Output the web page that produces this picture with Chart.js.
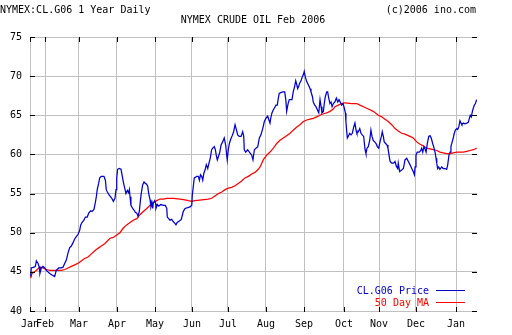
<!DOCTYPE html>
<html>
<head>
<meta charset="utf-8">
<script src="https://cdn.jsdelivr.net/npm/chart.js@4/dist/chart.umd.min.js"></script>
<style>
  html, body { margin: 0; padding: 0; background: #fff; }
  canvas { display: block; }
</style>
</head>
<body>
<canvas id="c" width="512" height="335"></canvas>
<script>
// ---- Data (trading-session index from start of chart, price in $/bbl) ----
const headerLeft = 'NYMEX:CL.G06 1 Year Daily';
const headerRight = '(c)2006 ino.com';
const chartTitle = 'NYMEX CRUDE OIL Feb 2006';
const seriesNames = ['CL.G06 Price', '50 Day MA'];

const monthLabels = ['Jan','Feb','Mar','Apr','May','Jun','Jul','Aug','Sep','Oct','Nov','Dec','Jan'];
const monthDays = [0, 8.5, 27.6, 49.0, 70.5, 91.3, 111.6, 133.0, 154.5, 177.0, 196.8, 217.6, 240.2];
const yTicks = [40, 45, 50, 55, 60, 65, 70, 75];

const priceDay = [0.4,0.7,2.3,3.0,3.6,4.5,5.1,5.6,6.4,7.3,8.3,9.2,10.1,11.1,12.4,13.9,14.8,16.2,17.6,18.6,19.6,20.5,21.4,22.4,23.3,24.2,25.2,26.1,27.1,28.0,28.6,29.3,30.4,31.2,32.3,33.1,34.2,35.0,36.1,36.8,37.4,37.9,38.7,39.3,40.2,41.7,42.5,43.0,43.6,44.7,46.1,47.0,47.9,48.5,48.9,49.4,50.3,51.3,51.9,52.6,53.4,54.1,54.9,55.6,56.0,56.4,56.9,57.9,58.6,59.4,60.2,60.9,61.6,62.2,62.7,63.5,64.3,65.0,65.8,66.4,66.9,67.7,68.2,68.8,69.2,69.5,70.3,70.9,71.0,71.8,72.6,73.7,75.1,76.3,77.1,77.4,78.2,78.9,79.9,80.8,81.7,82.3,83.0,84.2,85.3,86.4,87.4,88.9,90.2,91.2,91.5,92.1,92.6,93.4,94.0,94.9,95.5,96.1,96.8,97.4,98.0,98.7,99.4,100.2,100.9,101.6,102.4,103.0,103.9,104.5,105.0,105.6,106.2,107.0,107.7,108.6,109.5,110.3,110.9,111.2,111.8,112.4,113.1,114.0,114.8,115.6,116.3,117.1,118.0,119.0,119.9,120.5,120.8,121.6,122.7,124.0,125.0,125.7,126.5,127.4,128.4,129.3,130.2,131.2,132.1,133.0,134.0,134.7,135.3,135.7,136.4,137.2,137.7,138.7,139.4,140.0,140.5,141.3,142.5,143.6,144.2,144.7,145.5,146.2,147.0,147.7,148.4,149.2,149.8,150.4,150.9,151.5,152.0,152.8,153.5,154.1,154.6,155.2,156.0,156.9,157.9,158.4,159.2,159.7,160.5,161.2,162.0,162.8,163.5,164.1,164.6,165.4,165.9,166.5,167.3,167.8,168.4,169.1,169.7,170.3,171.0,171.9,172.7,173.5,174.2,174.9,175.7,176.5,177.2,177.8,178.1,178.5,178.9,179.4,180.2,181.0,181.7,182.5,183.2,183.8,184.3,185.1,185.9,186.6,187.3,188.1,188.9,189.4,190.0,190.7,191.5,192.2,192.8,193.5,194.3,195.1,195.8,196.6,197.3,198.1,198.6,199.2,199.7,200.5,201.3,201.8,202.4,203.0,203.9,205.0,205.8,206.5,207.3,207.6,208.4,209.5,210.5,211.4,212.4,213.3,214.2,215.2,216.1,216.7,217.1,217.6,218.3,219.5,220.3,220.8,221.4,222.1,222.7,223.3,224.0,224.8,225.5,226.2,227.0,227.8,228.5,228.9,229.3,229.8,230.4,231.1,232.1,233.0,234.0,234.9,235.5,236.2,236.8,237.3,237.9,238.6,239.2,239.8,240.6,241.1,241.7,242.4,243.0,243.5,244.3,245.2,246.2,247.1,247.7,248.2,248.8,249.4,249.9,250.5,251.1,251.8];
const priceVal = [44.4,45.5,45.6,45.7,46.4,46.1,45.7,44.8,45.5,45.7,45.5,45.2,45.0,44.8,44.6,44.4,45.2,45.5,45.5,45.6,46.1,46.5,47.4,48.1,48.3,48.7,49.2,49.5,49.8,50.3,51.0,51.3,51.6,52.0,52.0,52.5,52.8,52.7,53.0,53.8,54.6,55.5,56.3,57.0,57.2,57.2,56.7,55.5,55.2,54.8,54.4,54.0,54.4,55.5,57.0,58.1,58.2,58.1,57.4,56.5,55.7,55.0,55.4,55.1,55.5,54.6,53.5,53.1,52.9,52.6,52.5,52.1,52.7,54.0,55.0,56.1,56.5,56.3,56.2,55.9,55.0,54.2,53.3,53.8,53.1,53.8,54.1,53.7,53.1,53.6,53.4,53.6,53.5,53.5,53.1,52.0,51.8,51.6,51.7,51.4,51.2,51.0,51.3,51.5,51.7,52.7,53.1,53.2,53.3,53.5,54.8,56.0,57.0,57.1,57.2,57.2,56.7,57.4,57.2,56.7,57.6,58.0,58.7,58.2,58.9,59.5,60.6,60.8,61.0,60.6,59.9,59.3,59.7,60.3,61.2,61.6,62.1,61.2,59.9,59.3,60.6,61.4,61.9,62.4,62.9,63.8,63.2,62.5,62.3,62.3,62.9,62.3,60.6,60.3,60.6,60.2,59.9,59.3,60.6,60.8,61.0,62.1,62.5,63.3,64.2,64.6,64.9,64.4,64.0,64.6,65.3,65.7,65.9,66.3,66.3,67.2,67.8,67.9,68.0,68.0,67.0,65.5,66.5,67.0,67.0,67.0,68.0,68.7,69.4,68.9,68.4,68.7,69.1,69.4,69.9,70.2,70.6,69.9,69.3,68.9,68.4,68.0,67.4,66.7,66.3,66.1,65.7,65.3,67.0,66.1,65.3,65.5,66.5,67.4,68.0,68.0,67.2,66.5,66.7,66.1,66.5,66.7,67.2,66.7,67.0,66.7,66.3,66.5,65.9,65.3,64.2,63.1,62.1,62.3,62.7,62.5,62.7,63.5,64.0,63.1,62.7,62.9,63.3,62.7,62.5,62.3,60.6,60.1,60.8,61.0,61.8,63.1,62.3,61.8,61.6,61.4,61.0,60.8,61.6,62.3,62.9,62.3,61.6,61.4,61.2,60.8,59.9,59.1,58.9,58.9,59.1,58.5,58.2,58.9,57.8,58.0,58.2,59.3,59.5,59.1,58.7,58.2,57.8,57.4,58.4,59.9,60.3,60.3,60.5,60.8,60.3,61.0,60.7,60.3,61.4,62.3,62.4,62.1,61.4,60.8,60.1,59.5,58.9,58.2,58.4,58.1,58.4,58.2,58.2,58.1,58.7,59.9,60.3,61.0,61.5,62.1,62.7,63.1,63.3,63.2,63.5,64.3,64.0,63.8,64.0,63.9,64.0,64.1,64.6,65.0,64.8,65.5,65.9,66.3,66.5,67.0];

const maDay = [0.4,1.1,2.6,4.1,5.5,7.3,9.2,11.1,13.9,17.6,19.6,21.4,23.3,25.2,27.1,28.9,30.8,32.7,34.6,36.5,38.3,40.2,42.1,45.1,47.0,48.9,50.7,52.6,54.5,56.4,58.2,60.2,62.0,63.9,65.8,67.7,69.5,71.4,73.3,75.1,77.1,80.8,84.6,87.4,89.2,91.2,93.0,96.8,100.5,102.4,104.3,106.2,108.1,110.0,111.8,113.7,115.6,117.4,119.3,121.2,123.1,125.0,126.8,128.7,129.7,131.5,133.4,135.3,137.2,139.1,140.9,142.8,144.7,146.6,148.4,150.4,152.2,154.1,156.0,157.9,159.7,161.6,163.5,165.4,167.3,169.1,171.0,171.9,173.8,175.7,177.6,181.4,184.2,186.0,188.9,190.7,193.5,196.4,198.3,200.1,202.0,203.9,205.8,207.6,209.5,211.4,214.2,216.1,218.0,219.9,221.7,223.6,225.5,227.4,229.3,231.1,233.0,234.9,236.8,238.6,240.6,242.4,244.3,246.2,248.1,249.9,250.9,251.8];
const maVal = [44.2,44.8,45.0,45.3,45.6,45.5,45.3,45.2,45.2,45.2,45.3,45.5,45.7,45.9,46.1,46.4,46.7,46.9,47.3,47.7,48.0,48.3,48.6,49.3,49.4,49.7,50.0,50.6,51.0,51.3,51.6,51.8,52.3,52.7,53.1,53.5,53.8,54.1,54.3,54.3,54.4,54.4,54.3,54.2,54.1,54.0,54.1,54.2,54.3,54.4,54.7,55.0,55.2,55.5,55.7,55.8,56.0,56.3,56.6,57.0,57.2,57.5,57.7,58.1,58.4,59.3,59.9,60.3,60.8,61.4,61.8,62.1,62.4,62.7,63.1,63.5,63.8,64.2,64.4,64.5,64.6,64.8,65.0,65.2,65.3,65.5,65.8,66.1,66.3,66.5,66.6,66.5,66.5,66.3,66.0,65.8,65.5,65.0,64.8,64.5,64.2,63.8,63.3,63.0,62.7,62.6,62.3,62.1,61.6,61.3,61.1,60.8,60.7,60.6,60.5,60.3,60.2,60.1,60.1,60.2,60.3,60.3,60.3,60.4,60.5,60.6,60.7,60.8];

const FONT = 'DejaVu Sans Mono';
const BLUE = '#0000cc';
const RED = '#ff0000';
const GRID = '#c0c0c0';

function toPoints(xs, ys) {
  const n = Math.min(xs.length, ys.length);
  const out = [];
  for (let i = 0; i < n; i++) out.push({ x: xs[i], y: ys[i] });
  return out;
}

const decorPlugin = {
  id: 'decor',
  afterDraw(chart) {
    const ctx = chart.ctx;
    const a = chart.chartArea;
    const xs = chart.scales.x, ys = chart.scales.y;
    ctx.save();
    // inward dark tick marks
    ctx.strokeStyle = '#000';
    ctx.lineWidth = 1;
    ctx.beginPath();
    ys.ticks.forEach(t => {
      const py = Math.round(ys.getPixelForValue(t.value)) + 0.5;
      ctx.moveTo(a.left, py); ctx.lineTo(a.left + 5, py);
      ctx.moveTo(a.right - 5, py); ctx.lineTo(a.right, py);
    });
    xs.ticks.forEach(t => {
      const px = Math.round(xs.getPixelForValue(t.value)) + 0.5;
      ctx.moveTo(px, a.top); ctx.lineTo(px, a.top + 5);
      ctx.moveTo(px, a.bottom - 4); ctx.lineTo(px, a.bottom + 1);
    });
    ctx.stroke();

    // header texts
    ctx.font = '10px "' + FONT + '"';
    ctx.fillStyle = '#000';
    ctx.textBaseline = 'alphabetic';
    ctx.textAlign = 'left';
    ctx.fillText(headerLeft, 0, 13);
    ctx.textAlign = 'right';
    ctx.fillText(headerRight, 476, 13);
    ctx.textAlign = 'center';
    ctx.fillText(chartTitle, 253, 23);

    // legend
    const ds = chart.data.datasets;
    const rows = [{ y: 294, ly: 290.5 }, { y: 306, ly: 302.5 }];
    ds.forEach((d, i) => {
      ctx.fillStyle = d.borderColor;
      ctx.textAlign = 'right';
      ctx.fillText(d.label, 429, rows[i].y);
      ctx.strokeStyle = d.borderColor;
      ctx.lineWidth = 1;
      ctx.beginPath();
      ctx.moveTo(436, rows[i].ly); ctx.lineTo(465, rows[i].ly);
      ctx.stroke();
    });
    ctx.restore();
  }
};

Chart.defaults.font.family = FONT;
Chart.defaults.font.size = 10;
Chart.defaults.color = '#000';

new Chart(document.getElementById('c'), {
  type: 'line',
  data: {
    datasets: [
      { label: seriesNames[0], data: toPoints(priceDay, priceVal), borderColor: BLUE, borderWidth: 1.25, pointRadius: 0, tension: 0, fill: false },
      { label: seriesNames[1], data: toPoints(maDay, maVal), borderColor: RED, borderWidth: 1.25, pointRadius: 0, tension: 0, fill: false }
    ]
  },
  options: {
    responsive: false,
    animation: false,
    devicePixelRatio: 1,
    layout: { padding: { top: 37, right: 35, left: 0, bottom: 0 } },
    plugins: { legend: { display: false }, tooltip: { enabled: false }, title: { display: false } },
    scales: {
      x: {
        type: 'linear',
        min: 0,
        max: 252,
        afterBuildTicks(scale) { scale.ticks = monthDays.map(v => ({ value: v })); },
        afterFit(scale) { scale.height = 24; },
        ticks: {
          autoSkip: false, maxRotation: 0, padding: 7,
          callback(value, index) { return monthLabels[index]; }
        },
        grid: { color: GRID, drawTicks: false, lineWidth: 1 },
        border: { display: false }
      },
      y: {
        min: 40,
        max: 75,
        afterBuildTicks(scale) { scale.ticks = yTicks.map(v => ({ value: v })); },
        afterFit(scale) { scale.width = 30; },
        ticks: { padding: 8 },
        grid: { color: GRID, drawTicks: false, lineWidth: 1 },
        border: { display: false }
      }
    }
  },
  plugins: [decorPlugin]
});
</script>
</body>
</html>
